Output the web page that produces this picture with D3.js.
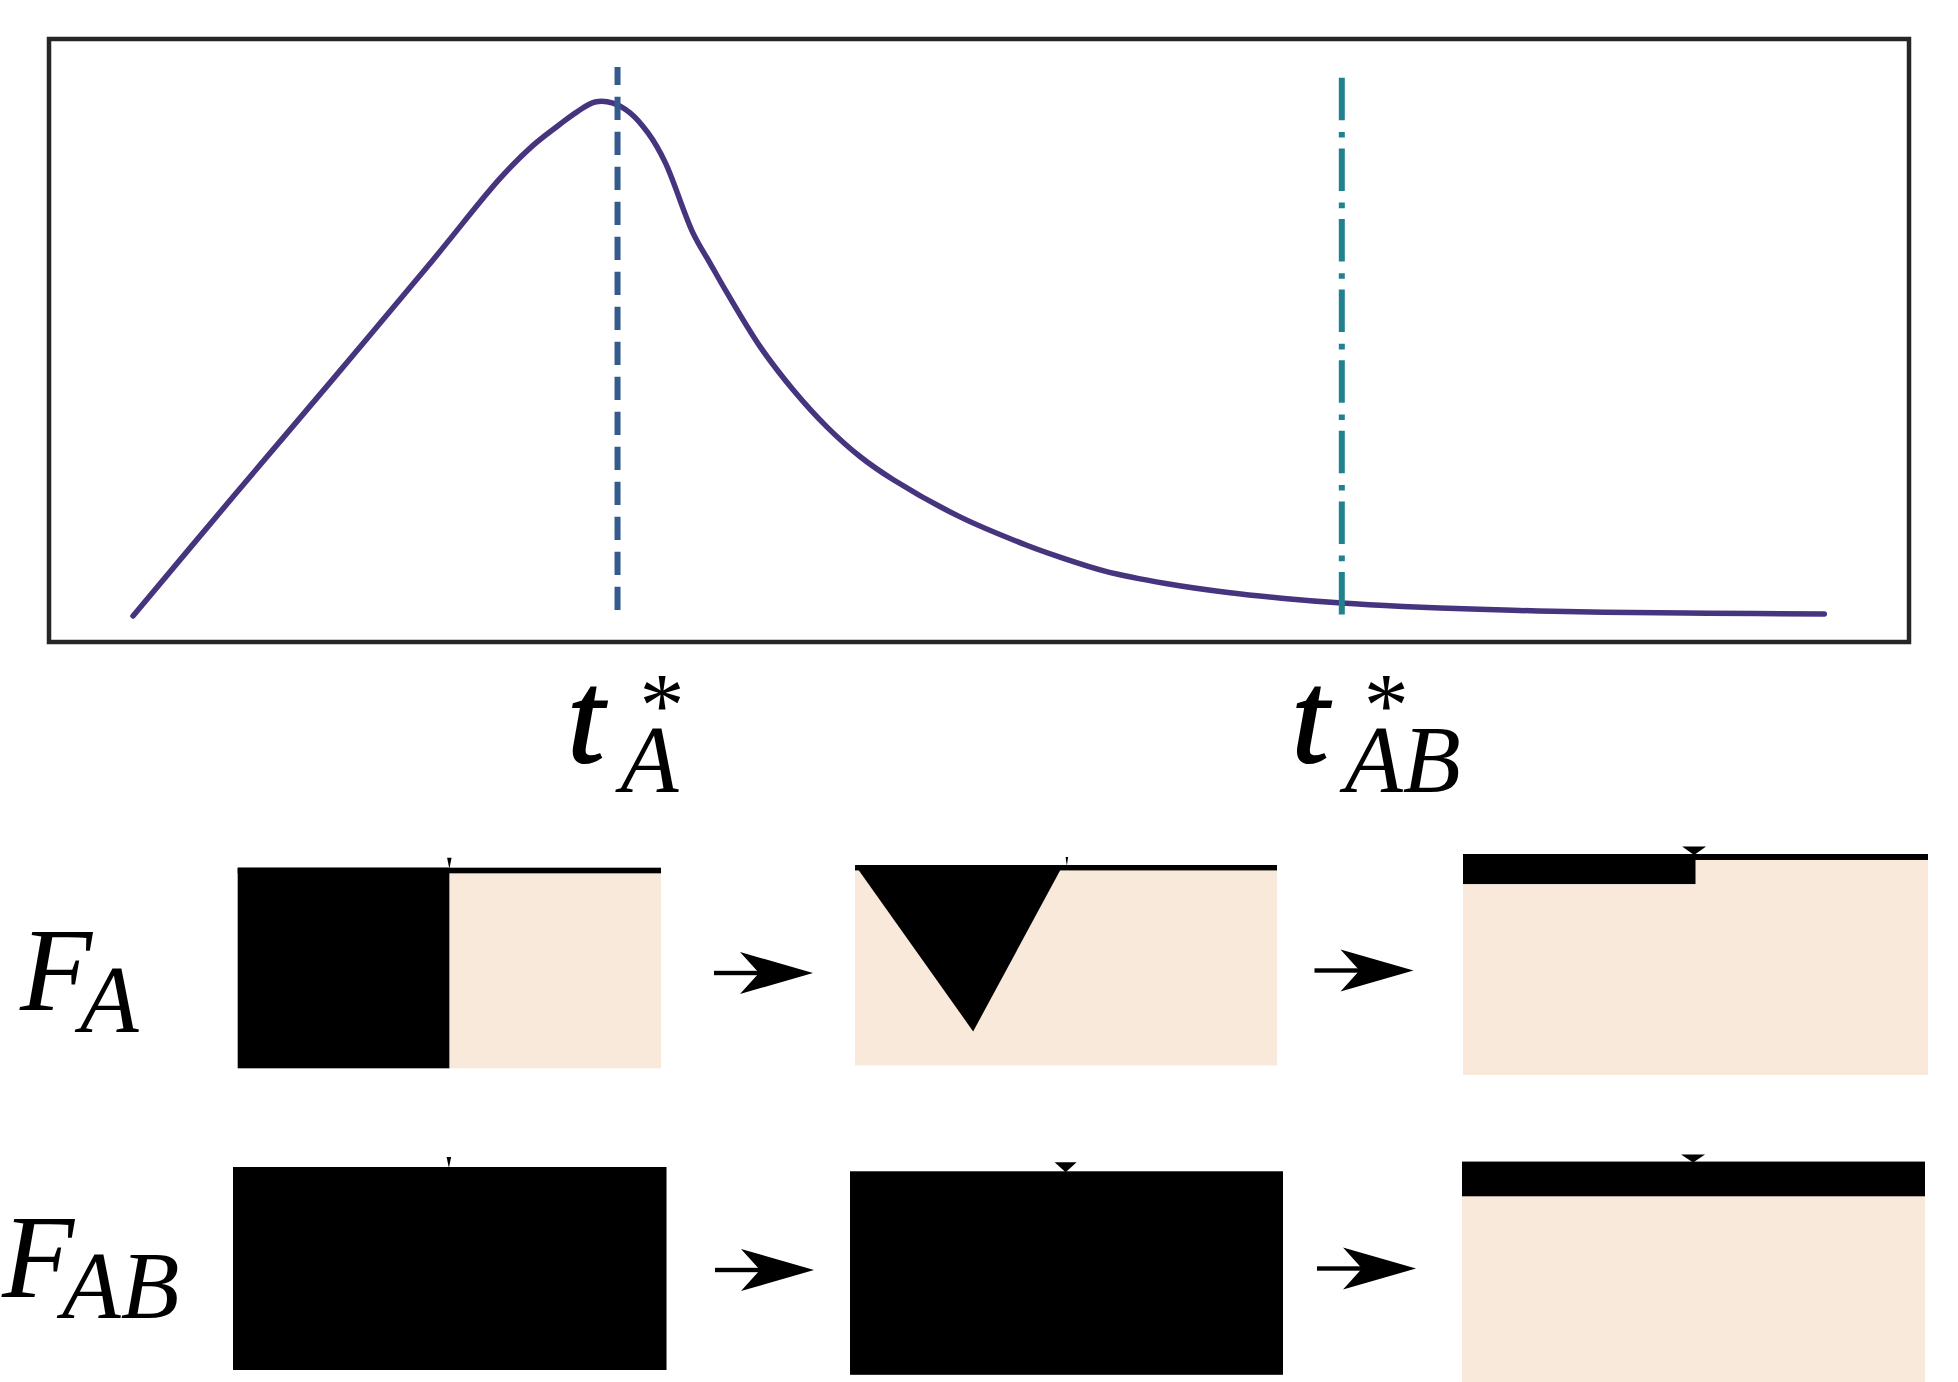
<!DOCTYPE html>
<html>
<head>
<meta charset="utf-8">
<script src="https://cdn.jsdelivr.net/npm/d3@7"></script>
<style>
html, body { margin: 0; padding: 0; background: #ffffff; }
svg { display: block; }
</style>
</head>
<body>
<svg id="chart" width="1958" height="1382"></svg>
<script>
// ---------------- data ----------------
const curveTime  = [0, 0.591, 1.181, 1.772, 2.168, 2.363, 2.522, 2.623, 2.729, 2.835, 2.936, 3.042, 3.142, 3.308, 3.408, 3.509, 3.704, 3.90, 4.097, 4.294, 4.491, 4.885, 5.279, 5.475, 5.74, 6.1, 6.48, 6.8, 7.14, 7.5, 7.95, 8.3, 8.69, 9.3, 9.99];
const curveValue = [0.002, 0.233, 0.461, 0.692, 0.850, 0.914, 0.955, 0.979, 0.998, 0.996, 0.977, 0.938, 0.882, 0.744, 0.686, 0.628, 0.524, 0.440, 0.369, 0.311, 0.266, 0.194, 0.139, 0.116, 0.089, 0.065, 0.047, 0.036, 0.027, 0.0205, 0.0148, 0.0118, 0.0094, 0.0072, 0.006];

const criticalTimes  = [2.862, 7.14];
const criticalTops   = [1.066, 1.045];
const criticalBottom = 0.004;
const criticalSubs   = ["A", "AB"];

const rowSubs    = ["A", "AB"];
// fill state of each snapshot (row = quantity, column = stage), unit panel coordinates
const fillShape  = [["rect", "wedge", "rect"], ["rect", "rect", "rect"]];
const fillWidth  = [[0.5, 0.493, 0.5], [1, 1, 1]];
const fillDepth  = [[1, 0.83, 0.136], [1, 1, 0.157]];
const wedgeApexX = [[0, 0.28, 0], [0, 0, 0]];
const filmDepth  = [[0.028, 0.027, 0.027], [0, 0, 0]];
const markerX    = [[0.5, 0.502, 0.497], [0.498, 0.498, 0.499]];

// ---------------- layout / style ----------------
const svg = d3.select("#chart");
const x = d3.scaleLinear().domain([0, 10]).range([133, 1826]);
const y = d3.scaleLinear().domain([0, 1]).range([617, 101]);

const COL_CURVE = "#46347f";
const COL_DASH  = "#345b8c";
const COL_TEAL  = "#21818f";
const BEIGE     = "#f9e9db";
const FONT      = "'Liberation Serif', 'Times New Roman', serif";

// frame
svg.append("rect")
  .attr("x", 49).attr("y", 39).attr("width", 1860).attr("height", 603)
  .attr("fill", "none").attr("stroke", "#262626").attr("stroke-width", 4.5);

// curve
const line = d3.line().x(d => x(d[0])).y(d => y(d[1])).curve(d3.curveCatmullRom.alpha(0.5));
svg.append("path")
  .datum(d3.zip(curveTime, curveValue))
  .attr("d", line)
  .attr("fill", "none").attr("stroke", COL_CURVE).attr("stroke-width", 5.5)
  .attr("stroke-linecap", "round").attr("stroke-linejoin", "round");

// critical time lines
const critStyle = [
  { color: COL_DASH, dash: "23.3,11.7", offset: 5.3 },
  { color: COL_TEAL, dash: "42.5,11.7,5.6,10.8", offset: 0 }
];
criticalTimes.forEach((t, i) => {
  svg.append("line")
    .attr("x1", x(t)).attr("x2", x(t))
    .attr("y1", y(criticalTops[i])).attr("y2", y(criticalBottom))
    .attr("stroke", critStyle[i].color).attr("stroke-width", 6)
    .attr("stroke-dasharray", critStyle[i].dash)
    .attr("stroke-dashoffset", critStyle[i].offset);
});

// critical time labels  t*_A , t*_AB
criticalTimes.forEach((t, i) => {
  const cx = x(t);
  const txt = svg.append("text").attr("font-family", FONT).attr("fill", "#000");
  txt.append("tspan").attr("x", cx - 50).attr("y", 762)
    .attr("font-style", "italic").attr("font-size", 132)
    .attr("stroke", "#000").attr("stroke-width", 2.2).text("t");
  txt.append("tspan").attr("x", cx + 44.5).attr("y", 736)
    .attr("text-anchor", "middle").attr("font-size", 90).text("*");
  txt.append("tspan").attr("x", cx + 3).attr("y", 792)
    .attr("font-style", "italic").attr("font-size", 95).text(criticalSubs[i]);
});

// row labels F_A, F_AB
const rowLabelPos = [{ fx: 20, fy: 1010, sx: 80, sy: 1032 }, { fx: 2, fy: 1297, sx: 62, sy: 1318 }];
rowSubs.forEach((s, r) => {
  const p = rowLabelPos[r];
  const txt = svg.append("text").attr("font-family", FONT).attr("font-style", "italic").attr("fill", "#000");
  txt.append("tspan").attr("x", p.fx).attr("y", p.fy).attr("font-size", 118).text("F");
  txt.append("tspan").attr("x", p.sx).attr("y", p.sy).attr("font-size", 96).text(s);
});

// snapshot panels
const panelLayout = [
  [{ x: 237.7, y: 867.7, w: 423.3, h: 200.6 }, { x: 855, y: 865, w: 422, h: 200.5 }, { x: 1463, y: 854, w: 465, h: 221 }],
  [{ x: 233, y: 1167, w: 433.5, h: 203 }, { x: 850, y: 1171.3, w: 433, h: 203.5 }, { x: 1462, y: 1161.6, w: 463, h: 221 }]
];
const markerSize = [
  [{ w: 4.5, h: 10 }, { w: 2.5, h: 8 }, { w: 24, h: 7.5 }],
  [{ w: 4.5, h: 10 }, { w: 22, h: 9 }, { w: 24, h: 7 }]
];

rowSubs.forEach((s, r) => {
  [0, 1, 2].forEach(c => {
    const L = panelLayout[r][c];
    const px = d3.scaleLinear().domain([0, 1]).range([L.x, L.x + L.w]);
    const py = d3.scaleLinear().domain([0, 1]).range([L.y, L.y + L.h]);
    const g = svg.append("g");
    g.append("rect").attr("x", px(0)).attr("y", py(0))
      .attr("width", px(1) - px(0)).attr("height", py(1) - py(0)).attr("fill", BEIGE);
    if (filmDepth[r][c] > 0) {
      g.append("rect").attr("x", px(0)).attr("y", py(0))
        .attr("width", px(1) - px(0)).attr("height", py(filmDepth[r][c]) - py(0)).attr("fill", "#000");
    }
    if (fillShape[r][c] === "rect") {
      g.append("rect").attr("x", px(0)).attr("y", py(0))
        .attr("width", px(fillWidth[r][c]) - px(0)).attr("height", py(fillDepth[r][c]) - py(0))
        .attr("fill", "#000");
    } else {
      const pts = [[0, 0], [fillWidth[r][c], 0], [wedgeApexX[r][c], fillDepth[r][c]]];
      g.append("path").attr("d", d3.line().x(d => px(d[0])).y(d => py(d[1]))(pts) + "Z").attr("fill", "#000");
    }
    const m = markerSize[r][c];
    const mx = px(markerX[r][c]), my = py(0);
    g.append("path")
      .attr("d", `M${mx - m.w / 2},${my - m.h}L${mx + m.w / 2},${my - m.h}L${mx},${my + 1}Z`)
      .attr("fill", "#000");
  });
});

// arrows between snapshots
const arrowLayout = [{ x: 714, y: 973 }, { x: 1314.5, y: 970.5 }, { x: 715, y: 1270 }, { x: 1317, y: 1268.5 }];
arrowLayout.forEach(a => {
  svg.append("rect").attr("x", a.x).attr("y", a.y - 2.2).attr("width", 48).attr("height", 4.4).attr("fill", "#000");
  svg.append("path")
    .attr("d", `M${a.x + 99},${a.y}L${a.x + 26},${a.y - 21}L${a.x + 45},${a.y}L${a.x + 26},${a.y + 21}Z`)
    .attr("fill", "#000");
});
</script>
</body>
</html>
